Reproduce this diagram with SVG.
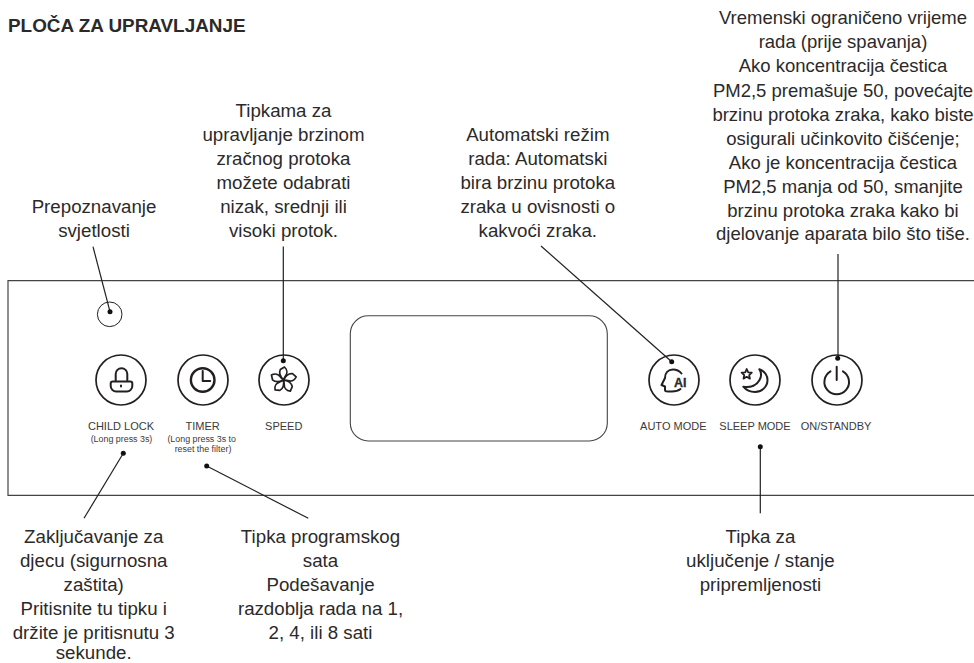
<svg xmlns="http://www.w3.org/2000/svg" width="974" height="663" viewBox="0 0 974 663">
<style>
text{font-family:"Liberation Sans",Arial,sans-serif;fill:#2b2a2a}
.t{font-size:18.7px;text-anchor:middle}
.s{font-size:11px;text-anchor:middle;fill:#3a3a3a}
.x{font-size:8.9px;text-anchor:middle;fill:#3a3a3a}
.b{fill:#fff;stroke:#231f20;stroke-width:1.7}
.i{fill:none;stroke:#231f20;stroke-width:2;stroke-linejoin:round;stroke-linecap:round}
.l{stroke:#231f20;stroke-width:1.2;fill:none}
.d{fill:#111;stroke:none}
</style>
<defs><path id="petal" d="M0 0C-3-3-4.800-7-3.200-10.500L1-13C4.200-10 3.800-6.200 2-4C1.200-2.500 .5-1 0 0Z" fill="none" stroke="#231f20" stroke-width="1.700" stroke-linejoin="round"/></defs>
<rect width="974" height="663" fill="#fff"/>
<text x="8" y="31.500" style="font-size:18.9px;font-weight:bold">PLOČA ZA UPRAVLJANJE</text>
<g id="panel"><path d="M974 280.700H8V495.400H974" fill="none" stroke="#444" stroke-width="1.200"/></g>
<g id="display"><rect x="350.300" y="315.800" width="257" height="125.200" rx="18" fill="#fff" stroke="#444" stroke-width="1.100"/></g>
<g id="light-sensor"><circle cx="109.700" cy="314.300" r="12.300" fill="#fff" stroke="#231f20" stroke-width="1"/>
<text class="t"><tspan x="94" y="213">Prepoznavanje</tspan><tspan x="94" y="236.700">svjetlosti</tspan></text></g>
<g id="child-lock"><circle class="b" cx="121" cy="380" r="25"/>
<path class="i" d="M115.700 381.500V374a5.800 5.800 0 0 1 11.600 0v7.500M112.700 381.500h17.600a2 2 0 0 1 2 2v2.500a5.500 5.500 0 0 1-5.500 5.500h-10.600a5.500 5.500 0 0 1-5.500-5.500v-2.500a2 2 0 0 1 2-2zM121 385.500v1"/>
<text class="s" x="121" y="430">CHILD LOCK</text><text class="x" x="121.500" y="441.700">(Long press 3s)</text></g>
<g id="timer"><circle class="b" cx="203" cy="380" r="25"/>
<circle cx="202.700" cy="380" r="11.800" fill="none" stroke="#231f20" stroke-width="2.400"/><path class="i" d="M202.700 371v10h7.500"/>
<text class="s" x="202.700" y="430">TIMER</text><text class="x"><tspan x="201.700" y="441.700">(Long press 3s to</tspan><tspan x="203" y="451.700">reset the filter)</tspan></text></g>
<g id="speed"><circle class="b" cx="284" cy="380" r="25"/>
<use href="#petal" transform="translate(283.500 380)"/><use href="#petal" transform="translate(283.500 380) rotate(72)"/><use href="#petal" transform="translate(283.500 380) rotate(144)"/><use href="#petal" transform="translate(283.500 380) rotate(216)"/><use href="#petal" transform="translate(283.500 380) rotate(288)"/>
<text class="s" x="283.700" y="430">SPEED</text></g>
<g id="auto-mode"><circle class="b" cx="674" cy="380" r="25"/>
<path class="i" stroke-width="1.800" d="M681.500 373.500C679.500 371 676.500 369.500 673 369.500C668 369.500 665 373 665 378L661.500 385L665 386.500V390C665 391 666 391.500 668 391.500H672C675 391.500 678 391 680.500 389"/>
<text x="674" y="386.700" style="font-size:12.500px;font-weight:bold;stroke:#2b2a2a;stroke-width:.3">AI</text>
<text class="s" x="673.300" y="430">AUTO MODE</text></g>
<g id="sleep-mode"><circle class="b" cx="755" cy="380" r="25"/>
<path class="i" d="M759.300 369.300C765 371 767.500 376 767.500 380C767.500 387 761.500 392 755 392C750 392 746 390 743.300 386.700C751 388 757 385 759.500 380C761.500 376.500 761.500 372.500 759.300 369.300Z"/>
<path d="M746.700 369l1.500 3.300 3.600.4-2.600 2.400.7 3.500-3.200-1.800-3.200 1.800.7-3.500-2.600-2.400 3.600-.4z" fill="none" stroke="#231f20" stroke-width="1.800" stroke-linejoin="round"/>
<text class="s" x="755" y="430">SLEEP MODE</text></g>
<g id="on-standby"><circle class="b" cx="837" cy="380" r="25"/>
<path class="i" stroke-width="2.200" d="M830.500 371.300a12.300 12.300 0 1 0 12.400 0M836.700 366.700V380"/>
<text class="s" x="836" y="430">ON/STANDBY</text></g>
<g id="connectors" class="l">
<line x1="93" y1="246.700" x2="110" y2="311.700"/>
<line x1="283.300" y1="246.500" x2="283.300" y2="360.700"/>
<line x1="541" y1="246" x2="671.700" y2="361.700"/>
<line x1="838" y1="254" x2="838" y2="358.300"/>
<line x1="123.300" y1="453.300" x2="84" y2="518.300"/>
<line x1="206.700" y1="466" x2="308.300" y2="518.300"/>
<line x1="760.300" y1="446.700" x2="760.300" y2="513.300"/>
<circle class="d" cx="110" cy="311.700" r="2.500"/>
<circle class="d" cx="283.300" cy="360.700" r="2.500"/>
<circle class="d" cx="671.700" cy="361.700" r="2.500"/>
<circle class="d" cx="837.700" cy="358.300" r="2.500"/>
<circle class="d" cx="123.300" cy="453.300" r="2.500"/>
<circle class="d" cx="206.700" cy="466" r="2.500"/>
<circle class="d" cx="760.300" cy="446.700" r="2.500"/>
</g>
<g id="labels">
<text class="t"><tspan x="283.500" y="116.700">Tipkama za</tspan><tspan x="283.500" y="140.700">upravljanje brzinom</tspan><tspan x="283.500" y="164.700">zračnog protoka</tspan><tspan x="283.500" y="188.700">možete odabrati</tspan><tspan x="283.500" y="213">nizak, srednji ili</tspan><tspan x="283.500" y="237">visoki protok.</tspan></text>
<text class="t"><tspan x="537.800" y="140.700">Automatski režim</tspan><tspan x="537.800" y="164.700">rada: Automatski</tspan><tspan x="537.800" y="188.700">bira brzinu protoka</tspan><tspan x="537.800" y="212.700">zraka u ovisnosti o</tspan><tspan x="537.800" y="236.700">kakvoći zraka.</tspan></text>
<text class="t" style="font-size:18.5px"><tspan x="843" y="23.500">Vremenski ograničeno vrijeme</tspan><tspan x="843" y="48">rada (prije spavanja)</tspan><tspan x="843" y="72">Ako koncentracija čestica</tspan><tspan x="843" y="96.500">PM2,5 premašuje 50, povećajte</tspan><tspan x="843" y="120.500">brzinu protoka zraka, kako biste</tspan><tspan x="843" y="144.700">osigurali učinkovito čišćenje;</tspan><tspan x="843" y="168.700">Ako je koncentracija čestica</tspan><tspan x="843" y="192.700">PM2,5 manja od 50, smanjite</tspan><tspan x="843" y="216.700">brzinu protoka zraka kako bi</tspan><tspan x="843" y="240">djelovanje aparata bilo što tiše.</tspan></text>
<text class="t"><tspan x="93.700" y="542.700">Zaključavanje za</tspan><tspan x="93.700" y="566.700">djecu (sigurnosna</tspan><tspan x="93.700" y="590.700">zaštita)</tspan><tspan x="93.700" y="614.700">Pritisnite tu tipku i</tspan><tspan x="93.700" y="638.700">držite je pritisnutu 3</tspan><tspan x="93.700" y="658.900">sekunde.</tspan></text>
<text class="t"><tspan x="320.500" y="542.700">Tipka programskog</tspan><tspan x="320.500" y="566.700">sata</tspan><tspan x="320.500" y="590.700">Podešavanje</tspan><tspan x="320.500" y="614.700">razdoblja rada na 1,</tspan><tspan x="320.500" y="638.700">2, 4, ili 8 sati</tspan></text>
<text class="t"><tspan x="760.400" y="542.700">Tipka za</tspan><tspan x="760.400" y="566.700">uključenje / stanje</tspan><tspan x="760.400" y="590.700">pripremljenosti</tspan></text>
</g>
</svg>
